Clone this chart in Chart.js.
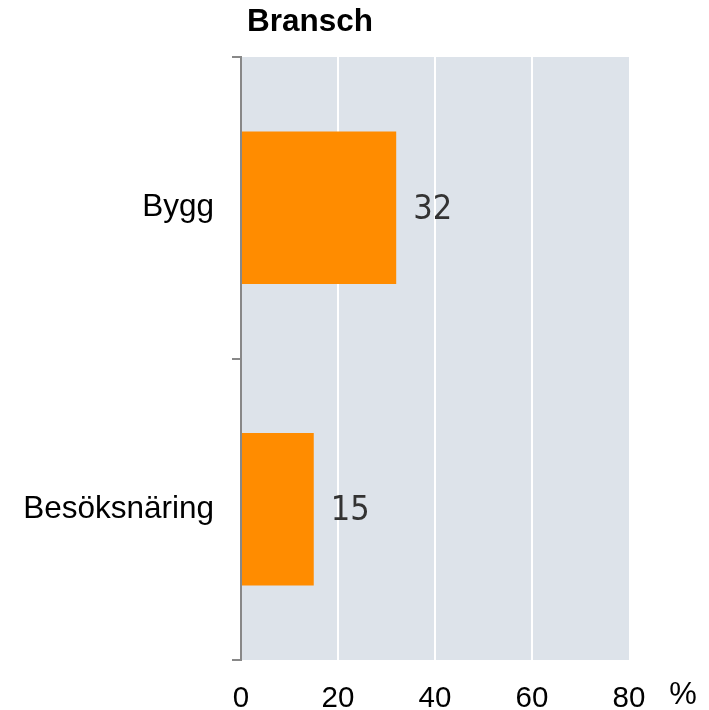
<!DOCTYPE html>
<html lang="sv">
<head>
<meta charset="utf-8" />
<title>Bransch</title>
<script src="https://cdn.jsdelivr.net/npm/chart.js"></script>
<style>
  html, body { margin: 0; padding: 0; background: #fff; }
  #wrap { width: 709px; height: 710px; }
</style>
</head>
<body>
<div id="wrap"><canvas id="chart" width="709" height="710"></canvas></div>
<script>
  const categories = ['Bygg', 'Besöksnäring'];
  const values = [32, 15];
  const xTicks = [0, 20, 40, 60, 80];
  const chartTitle = 'Bransch';
  const unitLabel = '%';

  // plot background, title, value labels and the % sign
  const extras = {
    id: 'extras',
    beforeDraw(chart) {
      const { ctx, chartArea: a } = chart;
      ctx.save();
      ctx.fillStyle = '#dde3ea';
      ctx.fillRect(a.left, a.top, a.right - a.left, a.bottom - a.top);
      ctx.restore();
    },
    afterDraw(chart) {
      const { ctx } = chart;
      ctx.save();
      ctx.fillStyle = '#000';
      ctx.font = 'bold 31.5px "Liberation Sans", Arial, sans-serif';
      ctx.textBaseline = 'middle';
      ctx.textAlign = 'left';
      ctx.fillText(chartTitle, 247, 22);

      ctx.font = '31px "Liberation Sans", Arial, sans-serif';
      ctx.textAlign = 'center';
      ctx.fillText(unitLabel, 683, 695);

      ctx.fillStyle = '#333';
      ctx.font = '34px "Liberation Sans Narrow", "DejaVu Sans Condensed", sans-serif';
      ctx.textAlign = 'left';
      chart.getDatasetMeta(0).data.forEach((bar, i) => {
        ctx.fillText(String(values[i]), bar.x + 17, bar.y + 2);
      });
      ctx.restore();
    }
  };

  new Chart(document.getElementById('chart'), {
    type: 'bar',
    data: {
      labels: categories,
      datasets: [{
        data: values,
        backgroundColor: '#ff8c00',
        borderWidth: 0,
        barPercentage: 0.505,
        categoryPercentage: 1
      }]
    },
    options: {
      indexAxis: 'y',
      responsive: false,
      animation: false,
      layout: { padding: { top: 57, right: 80, bottom: 0, left: 0 } },
      plugins: {
        legend: { display: false },
        tooltip: { enabled: false }
      },
      scales: {
        x: {
          min: 0,
          max: 80,
          afterFit(scale) { scale.height = 50; },
          afterBuildTicks(scale) { scale.ticks = xTicks.map(v => ({ value: v })); },
          border: { display: false },
          grid: {
            drawTicks: false,
            lineWidth: 2,
            color: ctx => (ctx.tick && ctx.tick.value > 0 && ctx.tick.value < 80) ? '#ffffff' : 'rgba(0,0,0,0)'
          },
          ticks: {
            padding: 21,
            color: '#000',
            font: { family: '"Liberation Sans", Arial, sans-serif', size: 29.5 }
          }
        },
        y: {
          afterFit(scale) { scale.width = 241; },
          border: { display: true, color: '#888', width: 2 },
          grid: {
            drawOnChartArea: false,
            drawTicks: true,
            tickLength: 9,
            lineWidth: 2,
            color: '#888'
          },
          ticks: {
            padding: 18,
            color: '#000',
            font: { family: '"Liberation Sans", Arial, sans-serif', size: 31.5 }
          }
        }
      }
    },
    plugins: [extras]
  });
</script>
</body>
</html>
